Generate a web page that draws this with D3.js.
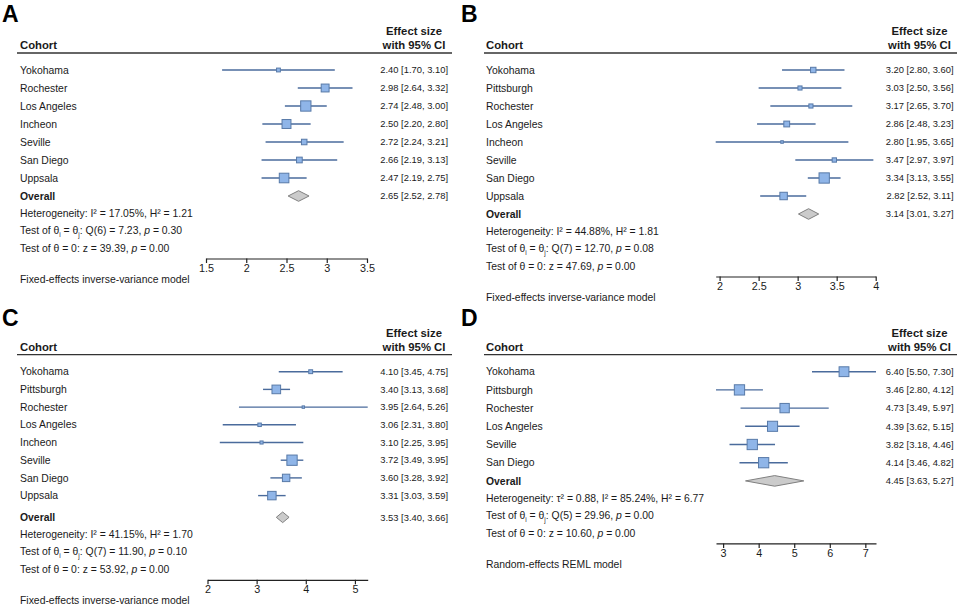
<!DOCTYPE html>
<html><head><meta charset="utf-8">
<script src="https://cdn.jsdelivr.net/npm/d3@7"></script>
<style>body{margin:0;background:#fff}svg{display:block;font-family:"Liberation Sans",Arial,sans-serif}</style>
</head><body><svg id="c" width="960" height="607"></svg>
<script>
// ---------- data ----------
const cohortsA = ["Yokohama","Rochester","Los Angeles","Incheon","Seville","San Diego","Uppsala"];
const estA = [2.40,2.98,2.74,2.50,2.72,2.66,2.47];
const loA  = [1.70,2.64,2.48,2.20,2.24,2.19,2.19];
const hiA  = [3.10,3.32,3.00,2.80,3.21,3.13,2.75];
const wA   = [3.5,14.9,25.4,19.1,7.3,7.8,22.0];
const overallA = [2.65,2.52,2.78];
const ticksA = [1.5,2,2.5,3,3.5];
const statsA = ["Heterogeneity: I² = 17.05%, H² = 1.21","Q(6) = 7.23","0.30","z = 39.39","0.00"];

const cohortsB = ["Yokohama","Pittsburgh","Rochester","Los Angeles","Incheon","Seville","San Diego","Uppsala"];
const estB = [3.20,3.03,3.17,2.86,2.80,3.47,3.34,2.82];
const loB  = [2.80,2.50,2.65,2.48,1.95,2.97,3.13,2.52];
const hiB  = [3.60,3.56,3.70,3.23,3.65,3.97,3.55,3.11];
const wB   = [10.3,5.9,6.0,11.9,2.3,6.6,37.3,19.6];
const overallB = [3.14,3.01,3.27];
const ticksB = [2,2.5,3,3.5,4];
const statsB = ["Heterogeneity: I² = 44.88%, H² = 1.81","Q(7) = 12.70","0.08","z = 47.69","0.00"];

const cohortsC = ["Yokohama","Pittsburgh","Rochester","Los Angeles","Incheon","Seville","San Diego","Uppsala"];
const estC = [4.10,3.40,3.95,3.06,3.10,3.72,3.60,3.31];
const loC  = [3.45,3.13,2.64,2.31,2.25,3.49,3.28,3.03];
const hiC  = [4.75,3.68,5.26,3.80,3.95,3.95,3.92,3.59];
const wC   = [3.6,17.9,1.4,2.9,2.3,25.5,13.2,17.2];
const overallC = [3.53,3.40,3.66];
const ticksC = [2,3,4,5];
const statsC = ["Heterogeneity: I² = 41.15%, H² = 1.70","Q(7) = 11.90","0.10","z = 53.92","0.00"];

const cohortsD = ["Yokohama","Pittsburgh","Rochester","Los Angeles","Seville","San Diego"];
const estD = [6.40,3.46,4.73,4.39,3.82,4.14];
const loD  = [5.50,2.80,3.49,3.62,3.18,3.46];
const hiD  = [7.30,4.12,5.97,5.15,4.46,4.82];
const wD   = [16.0,17.5,14.5,16.9,17.6,17.4];
const overallD = [4.45,3.63,5.27];
const ticksD = [3,4,5,6,7];
const statsD = ["Heterogeneity: τ² = 0.88, I² = 85.24%, H² = 6.77","Q(5) = 29.96","0.00","z = 10.60","0.00"];

const modelFE = "Fixed-effects inverse-variance model";
const modelRE = "Random-effects REML model";

// ---------- layout ----------
const leftCol  = {L:20,  lineL:17,  lineR:452, axL:206,   axR:367,   valR:448,   hdrC:414,   lx:2};
const rightCol = {L:486, lineL:484, lineR:957, axL:715.7, axR:875.7, valR:953.5, hdrC:919.5, lx:461};

const panels = [
  Object.assign({letter:"A", cohorts:cohortsA, est:estA, lo:loA, hi:hiA, w:wA, overall:overallA, ticks:ticksA, stats:statsA, model:modelFE,
   y0:0, rowTop:70, step:18, gap:0}, leftCol),
  Object.assign({letter:"B", cohorts:cohortsB, est:estB, lo:loB, hi:hiB, w:wB, overall:overallB, ticks:ticksB, stats:statsB, model:modelFE,
   y0:0, rowTop:70, step:18, gap:0}, rightCol),
  Object.assign({letter:"C", cohorts:cohortsC, est:estC, lo:loC, hi:hiC, w:wC, overall:overallC, ticks:ticksC, stats:statsC, model:modelFE,
   y0:304, rowTop:371.7, step:17.7, gap:4}, leftCol, {axL:207.5, axR:367.7}),
  Object.assign({letter:"D", cohorts:cohortsD, est:estD, lo:loD, hi:hiD, w:wD, overall:overallD, ticks:ticksD, stats:statsD, model:modelRE,
   y0:304, rowTop:371.7, step:18.2, gap:0}, rightCol, {axL:716, axR:876})
];

const svg = d3.select("#c");
const ink = "#1a1a1a";
const fmt = d3.format(".2f");
const FS = 10.4, FV = 9.4;

panels.forEach(p => {
  const g = svg.append("g");
  const L = p.L;

  g.append("text").attr("x", p.lx).attr("y", p.y0 + 22).attr("font-size", 23).attr("font-weight", "bold")
    .attr("fill", "#000").text(p.letter);

  const hy = p.rowTop - 17;
  g.append("text").attr("x", p.hdrC).attr("y", hy - 21.5).attr("dy", "0.35em").attr("text-anchor", "middle")
    .attr("font-size", 11.3).attr("font-weight", "bold").attr("fill", ink).text("Effect size");
  g.append("text").attr("x", p.hdrC).attr("y", hy - 8).attr("dy", "0.35em").attr("text-anchor", "middle")
    .attr("font-size", 11.3).attr("font-weight", "bold").attr("fill", ink).text("with 95% CI");
  g.append("text").attr("x", L).attr("y", hy - 8).attr("dy", "0.35em")
    .attr("font-size", 11.3).attr("font-weight", "bold").attr("fill", ink).text("Cohort");
  g.append("line").attr("x1", p.lineL).attr("x2", p.lineR).attr("y1", hy).attr("y2", hy)
    .attr("stroke", "#333").attr("stroke-width", 1.3);

  const n = p.cohorts.length;
  const idx = d3.range(n);
  const lo = d3.min([d3.min(p.lo), d3.min(p.ticks)]);
  const hi = d3.max([d3.max(p.hi), d3.max(p.ticks)]);
  const x = d3.scaleLinear().domain([lo, hi]).range([p.axL, p.axR]);
  const y = d3.scaleLinear().domain([0, 1]).range([p.rowTop, p.rowTop + p.step]);
  const s = d3.scaleSqrt().domain([0, d3.max(p.w)]).range([0, 10.3]);

  g.selectAll(".lab").data(idx).join("text").attr("x", L).attr("y", i => y(i)).attr("dy", "0.35em")
    .attr("font-size", FS).attr("fill", ink).text(i => p.cohorts[i]);
  g.selectAll(".ci").data(idx).join("line")
    .attr("x1", i => x(p.lo[i])).attr("x2", i => x(p.hi[i])).attr("y1", i => y(i)).attr("y2", i => y(i))
    .attr("stroke", "#4a6b9c").attr("stroke-width", 1.4);
  g.selectAll(".sq").data(idx).join("rect")
    .attr("x", i => x(p.est[i]) - s(p.w[i]) / 2).attr("y", i => y(i) - s(p.w[i]) / 2)
    .attr("width", i => s(p.w[i])).attr("height", i => s(p.w[i]))
    .attr("fill", "#8fb5e8").attr("stroke", "#587aa8").attr("stroke-width", 1);
  g.selectAll(".val").data(idx).join("text").attr("x", p.valR).attr("y", i => y(i)).attr("dy", "0.35em")
    .attr("text-anchor", "end").attr("font-size", FV).attr("fill", ink)
    .text(i => `${fmt(p.est[i])} [${fmt(p.lo[i])}, ${fmt(p.hi[i])}]`);

  const oy = y(n) + p.gap;
  g.append("text").attr("x", L).attr("y", oy).attr("dy", "0.35em").attr("font-size", FS)
    .attr("font-weight", "bold").attr("fill", ink).text("Overall");
  const [oe, ol, oh] = p.overall;
  g.append("path").attr("d", `M${x(ol)},${oy} L${x(oe)},${oy - 5.3} L${x(oh)},${oy} L${x(oe)},${oy + 5.3} Z`)
    .attr("fill", "#cbcbcb").attr("stroke", "#808080").attr("stroke-width", 1);
  g.append("text").attr("x", p.valR).attr("y", oy).attr("dy", "0.35em").attr("text-anchor", "end")
    .attr("font-size", FV).attr("fill", ink).text(`${fmt(oe)} [${fmt(ol)}, ${fmt(oh)}]`);

  // stats
  g.append("text").attr("x", L).attr("y", oy + 17.5).attr("dy", "0.35em").attr("font-size", FS)
    .attr("fill", ink).text(p.stats[0]);
  const t2 = g.append("text").attr("x", L).attr("y", oy + 34).attr("dy", "0.35em").attr("font-size", FS).attr("fill", ink);
  t2.append("tspan").text("Test of θ");
  t2.append("tspan").attr("font-size", 6.5).attr("dy", 3).text("i");
  t2.append("tspan").attr("dy", -3).text(" = θ");
  t2.append("tspan").attr("font-size", 6.5).attr("dy", 3).text("j");
  t2.append("tspan").attr("dy", -3).text(": " + p.stats[1] + ", ");
  t2.append("tspan").attr("font-style", "italic").text("p");
  t2.append("tspan").text(" = " + p.stats[2]);
  const t3 = g.append("text").attr("x", L).attr("y", oy + 52.5).attr("dy", "0.35em").attr("font-size", FS).attr("fill", ink);
  t3.append("tspan").text("Test of θ = 0: " + p.stats[3] + ", ");
  t3.append("tspan").attr("font-style", "italic").text("p");
  t3.append("tspan").text(" = " + p.stats[4]);

  // axis
  const ay = oy + 62.5;
  const ax = g.append("g").attr("transform", `translate(0,${ay})`)
    .call(d3.axisBottom(x).tickValues(p.ticks).tickSize(4.5).tickSizeOuter(0).tickFormat(d3.format("")));
  ax.select(".domain").attr("stroke", "#222").attr("stroke-width", 1.2);
  ax.selectAll(".tick line").attr("stroke", "#222").attr("stroke-width", 1.2);
  ax.selectAll(".tick text").attr("font-size", 10.8).attr("fill", ink).attr("font-family", "Liberation Sans, Arial, sans-serif")
    .attr("y", 5.5).attr("dy", "0.71em");

  g.append("text").attr("x", L).attr("y", oy + 83).attr("dy", "0.35em").attr("font-size", 10.4)
    .attr("fill", ink).text(p.model);
});
</script></body></html>
